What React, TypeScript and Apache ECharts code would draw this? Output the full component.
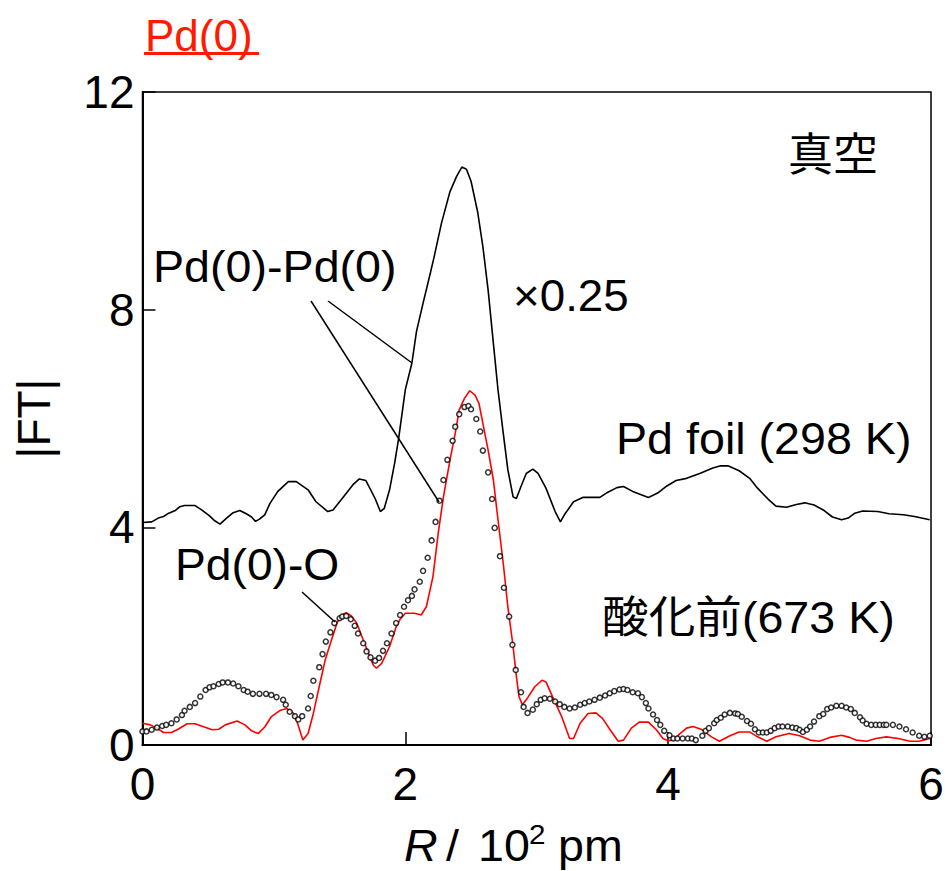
import React, { useEffect, useRef } from "react";
import * as echarts from "echarts";

// Pd foil (298 K), |FT| scaled x0.25 and offset
const foilR = [0.0, 0.07, 0.12, 0.16, 0.2, 0.25, 0.285, 0.32, 0.4, 0.45, 0.51, 0.55, 0.59, 0.64, 0.69, 0.74, 0.79, 0.83, 0.86, 0.89, 0.93, 0.97, 1.03, 1.11, 1.17, 1.26, 1.32, 1.41, 1.45, 1.53, 1.6, 1.65, 1.7, 1.77, 1.81, 1.84, 1.88, 1.92, 1.95, 2.0, 2.05, 2.085, 2.135, 2.19, 2.22, 2.275, 2.34, 2.39, 2.43, 2.465, 2.5, 2.55, 2.59, 2.63, 2.67, 2.705, 2.745, 2.78, 2.82, 2.845, 2.88, 2.92, 2.97, 3.01, 3.07, 3.14, 3.18, 3.21, 3.28, 3.35, 3.48, 3.53, 3.61, 3.66, 3.73, 3.85, 3.92, 3.99, 4.06, 4.14, 4.24, 4.34, 4.4, 4.455, 4.54, 4.62, 4.68, 4.76, 4.82, 4.9, 4.975, 5.04, 5.11, 5.18, 5.25, 5.32, 5.37, 5.42, 5.48, 5.595, 5.68, 5.79, 5.875, 5.99];
const foilFT = [4.09, 4.1, 4.17, 4.2, 4.26, 4.31, 4.38, 4.4, 4.4, 4.32, 4.21, 4.12, 4.06, 4.17, 4.27, 4.31, 4.25, 4.19, 4.11, 4.15, 4.23, 4.44, 4.66, 4.84, 4.84, 4.69, 4.47, 4.29, 4.32, 4.56, 4.78, 4.89, 4.86, 4.53, 4.29, 4.35, 4.69, 5.2, 5.65, 6.53, 7.02, 7.6, 8.12, 8.67, 8.98, 9.59, 10.17, 10.45, 10.62, 10.58, 10.36, 9.8, 9.16, 8.36, 7.38, 6.53, 5.73, 5.06, 4.56, 4.53, 4.75, 4.99, 5.07, 4.99, 4.72, 4.29, 4.1, 4.23, 4.47, 4.55, 4.55, 4.63, 4.73, 4.75, 4.66, 4.55, 4.63, 4.76, 4.86, 4.9, 4.99, 5.09, 5.13, 5.13, 5.04, 4.9, 4.72, 4.52, 4.39, 4.37, 4.42, 4.45, 4.41, 4.32, 4.19, 4.14, 4.17, 4.26, 4.3, 4.29, 4.25, 4.23, 4.2, 4.14];

// 酸化前 (673 K), red line
const redR = [0.0, 0.06, 0.11, 0.16, 0.22, 0.27, 0.34, 0.4, 0.46, 0.53, 0.58, 0.63, 0.72, 0.78, 0.83, 0.88, 0.93, 0.98, 1.05, 1.1, 1.15, 1.18, 1.22, 1.26, 1.3, 1.35, 1.39, 1.43, 1.48, 1.515, 1.55, 1.59, 1.63, 1.68, 1.73, 1.755, 1.78, 1.82, 1.88, 1.93, 1.96, 2.0, 2.07, 2.12, 2.16, 2.21, 2.25, 2.29, 2.34, 2.38, 2.41, 2.45, 2.49, 2.53, 2.56, 2.59, 2.63, 2.67, 2.705, 2.745, 2.78, 2.82, 2.845, 2.865, 2.89, 2.92, 2.985, 3.04, 3.07, 3.12, 3.19, 3.25, 3.28, 3.33, 3.39, 3.45, 3.5, 3.57, 3.62, 3.66, 3.72, 3.78, 3.85, 3.91, 3.96, 4.0, 4.04, 4.09, 4.14, 4.19, 4.25, 4.33, 4.39, 4.47, 4.54, 4.62, 4.68, 4.75, 4.82, 4.92, 5.0, 5.08, 5.15, 5.23, 5.32, 5.38, 5.43, 5.51, 5.58, 5.66, 5.75, 5.84, 5.91, 5.99];
const redFT = [0.4, 0.37, 0.31, 0.23, 0.23, 0.29, 0.39, 0.39, 0.34, 0.28, 0.29, 0.37, 0.44, 0.37, 0.26, 0.21, 0.33, 0.52, 0.64, 0.67, 0.58, 0.4, 0.09, 0.21, 0.58, 1.13, 1.56, 1.87, 2.24, 2.39, 2.43, 2.37, 2.24, 1.93, 1.62, 1.47, 1.41, 1.5, 1.81, 2.17, 2.31, 2.42, 2.42, 2.39, 2.54, 3.09, 3.89, 4.56, 5.24, 5.73, 6.16, 6.37, 6.51, 6.43, 6.28, 5.91, 5.42, 4.87, 4.14, 3.34, 2.54, 1.81, 1.26, 0.89, 0.74, 0.83, 1.07, 1.19, 1.16, 0.89, 0.52, 0.12, 0.12, 0.4, 0.58, 0.59, 0.49, 0.24, 0.07, 0.09, 0.31, 0.42, 0.42, 0.28, 0.12, 0.08, 0.09, 0.21, 0.31, 0.34, 0.29, 0.15, 0.07, 0.17, 0.24, 0.24, 0.15, 0.07, 0.15, 0.21, 0.17, 0.09, 0.07, 0.14, 0.18, 0.14, 0.09, 0.07, 0.12, 0.15, 0.12, 0.07, 0.07, 0.12];

// open circles
const dotR = [0.0, 0.03, 0.07, 0.11, 0.15, 0.18, 0.22, 0.26, 0.3, 0.32, 0.36, 0.4, 0.44, 0.48, 0.51, 0.54, 0.58, 0.61, 0.65, 0.69, 0.73, 0.77, 0.8, 0.84, 0.89, 0.94, 0.98, 1.02, 1.07, 1.09, 1.12, 1.16, 1.185, 1.215, 1.26, 1.28, 1.3, 1.345, 1.37, 1.395, 1.43, 1.46, 1.5, 1.52, 1.55, 1.585, 1.615, 1.64, 1.68, 1.705, 1.735, 1.77, 1.8, 1.83, 1.86, 1.895, 1.93, 1.96, 1.99, 2.02, 2.05, 2.07, 2.11, 2.135, 2.17, 2.2, 2.23, 2.26, 2.29, 2.32, 2.36, 2.38, 2.41, 2.45, 2.48, 2.5, 2.54, 2.57, 2.59, 2.63, 2.66, 2.68, 2.72, 2.75, 2.79, 2.815, 2.84, 2.88, 2.9, 2.93, 2.97, 3.0, 3.03, 3.06, 3.1, 3.14, 3.175, 3.21, 3.25, 3.29, 3.33, 3.365, 3.4, 3.44, 3.48, 3.52, 3.555, 3.59, 3.63, 3.66, 3.69, 3.73, 3.77, 3.8, 3.83, 3.85, 3.885, 3.915, 3.94, 3.97, 4.01, 4.04, 4.07, 4.11, 4.15, 4.18, 4.21, 4.26, 4.285, 4.31, 4.35, 4.37, 4.4, 4.43, 4.47, 4.51, 4.53, 4.56, 4.6, 4.63, 4.66, 4.69, 4.72, 4.75, 4.78, 4.81, 4.84, 4.87, 4.91, 4.945, 4.975, 5.0, 5.025, 5.055, 5.08, 5.11, 5.15, 5.18, 5.21, 5.24, 5.28, 5.32, 5.355, 5.39, 5.42, 5.46, 5.48, 5.51, 5.545, 5.58, 5.61, 5.64, 5.66, 5.71, 5.76, 5.81, 5.86, 5.91, 5.95, 5.99];
const dotFT = [0.25, 0.25, 0.28, 0.32, 0.35, 0.37, 0.4, 0.47, 0.55, 0.63, 0.7, 0.77, 0.89, 1.01, 1.06, 1.08, 1.12, 1.15, 1.15, 1.13, 1.08, 1.01, 0.98, 0.94, 0.94, 0.94, 0.92, 0.88, 0.83, 0.74, 0.61, 0.53, 0.47, 0.53, 0.67, 0.9, 1.18, 1.43, 1.67, 1.9, 2.07, 2.24, 2.33, 2.36, 2.37, 2.31, 2.19, 2.05, 1.87, 1.72, 1.61, 1.55, 1.6, 1.73, 1.87, 2.05, 2.24, 2.39, 2.54, 2.66, 2.74, 2.86, 3.0, 3.2, 3.44, 3.76, 4.1, 4.49, 4.87, 5.24, 5.59, 5.85, 6.08, 6.21, 6.23, 6.17, 5.99, 5.76, 5.41, 5.01, 4.52, 3.99, 3.47, 2.89, 2.36, 1.84, 1.38, 0.97, 0.7, 0.59, 0.65, 0.75, 0.83, 0.86, 0.85, 0.8, 0.75, 0.7, 0.67, 0.69, 0.74, 0.77, 0.8, 0.83, 0.87, 0.91, 0.95, 0.99, 1.02, 1.03, 1.01, 0.97, 0.95, 0.88, 0.77, 0.67, 0.56, 0.46, 0.37, 0.26, 0.18, 0.12, 0.12, 0.12, 0.12, 0.12, 0.09, 0.17, 0.26, 0.31, 0.4, 0.46, 0.5, 0.56, 0.59, 0.58, 0.57, 0.52, 0.44, 0.39, 0.29, 0.23, 0.23, 0.23, 0.26, 0.31, 0.34, 0.34, 0.34, 0.32, 0.31, 0.28, 0.24, 0.28, 0.34, 0.43, 0.53, 0.57, 0.66, 0.69, 0.72, 0.72, 0.69, 0.66, 0.59, 0.51, 0.45, 0.39, 0.37, 0.37, 0.37, 0.37, 0.37, 0.37, 0.34, 0.29, 0.23, 0.17, 0.15, 0.17];

const xTicks = [0, 2, 4, 6];
const yTicks = [0, 4, 8, 12];

const FONT = '"Liberation Sans", Arial, sans-serif';
const CJK = '"Liberation Sans", "Noto Sans CJK JP", sans-serif';

const zip = (a: number[], b: number[]) => a.map((v, i) => [v, b[i]]);

function txt(text: string, x: number, y: number, opts: any = {}) {
  return {
    type: "text",
    x,
    y,
    scaleX: opts.scaleX ?? 1.06,
    rotation: opts.rotation ?? 0,
    style: {
      text,
      fill: opts.fill ?? "#000",
      fontSize: opts.fontSize ?? 44,
      fontFamily: opts.fontFamily ?? FONT,
      fontStyle: opts.fontStyle ?? "normal",
      align: opts.align ?? "left",
      verticalAlign: "middle",
    },
    z: 10,
  };
}

function ln(x1: number, y1: number, x2: number, y2: number, color = "#000", w = 1.5) {
  return {
    type: "line",
    shape: { x1, y1, x2, y2 },
    style: { stroke: color, lineWidth: w },
    z: 10,
  };
}

export default function App() {
  const ref = useRef<HTMLDivElement>(null);
  useEffect(() => {
    if (!ref.current) return;
    const chart = echarts.init(ref.current, undefined, { renderer: "svg" });
    chart.setOption({
      animation: false,
      backgroundColor: "#fff",
      grid: {
        left: 142.5,
        right: 15,
        top: 92,
        bottom: 126,
        containLabel: false,
        outerBoundsMode: "none",
        show: true,
        borderColor: "#000",
        borderWidth: 1.5,
        backgroundColor: "transparent",
      },
      xAxis: {
        type: "value",
        min: xTicks[0],
        max: xTicks[xTicks.length - 1],
        interval: 2,
        axisLine: { show: true, lineStyle: { color: "#000", width: 2 } },
        axisTick: { show: true, inside: true, length: 13, lineStyle: { color: "#000", width: 1.5 } },
        axisLabel: { color: "#000", fontSize: 46, fontFamily: FONT, margin: 16 },
        splitLine: { show: false },
      },
      yAxis: {
        type: "value",
        min: yTicks[0],
        max: yTicks[yTicks.length - 1],
        interval: 4,
        name: "|FT|",
        nameLocation: "middle",
        nameRotate: 90,
        nameGap: 86,
        nameTextStyle: { color: "#000", fontSize: 46, fontFamily: FONT },
        axisLine: { show: true, lineStyle: { color: "#000", width: 2 } },
        axisTick: { show: true, inside: true, length: 13, lineStyle: { color: "#000", width: 1.5 } },
        axisLabel: { color: "#000", fontSize: 46, fontFamily: FONT, margin: 8 },
        splitLine: { show: false },
      },
      series: [
        {
          type: "line",
          name: "Pd foil (298 K)",
          data: zip(foilR, foilFT),
          showSymbol: false,
          symbol: "none",
          lineStyle: { color: "#000", width: 1.6 },
          z: 2,
        },
        {
          type: "line",
          name: "酸化前(673 K)",
          data: zip(redR, redFT),
          showSymbol: false,
          symbol: "none",
          lineStyle: { color: "#ff0000", width: 1.6 },
          z: 3,
        },
        {
          type: "scatter",
          name: "dots",
          data: zip(dotR, dotFT),
          symbol: "circle",
          symbolSize: 5,
          itemStyle: { color: "#fff", borderColor: "#000", borderWidth: 1.5 },
          z: 4,
        },
      ],
      graphic: [
        txt("Pd(0)", 145, 35, { fill: "#ff1a00", scaleX: 1 }),
        ln(144, 53.5, 259, 53.5, "#ff1a00", 3),
        txt("真空", 788, 155, { fontFamily: CJK, fontSize: 45, scaleX: 1 }),
        txt("Pd(0)-Pd(0)", 153, 267),
        txt("×0.25", 513, 296, { scaleX: 1.04 }),
        txt("Pd foil (298 K)", 616, 439),
        txt("Pd(0)-O", 175, 565, { scaleX: 1.05 }),
        txt("酸化前(673 K)", 602, 618, { fontFamily: CJK }),
        ln(311, 301, 439, 502),
        ln(328, 301, 412, 363),
        ln(302, 592, 335, 622),
        txt("R", 404, 846, { fontStyle: "italic" }),
        txt("/", 446, 846),
        txt("10", 478, 846),
        txt("2", 529, 834, { fontSize: 28 }),
        txt("pm", 558, 846),
      ],
    });
    return () => chart.dispose();
  }, []);
  return (
    <div
      ref={ref}
      style={{ position: "fixed", left: 0, top: 0, width: 946, height: 871 }}
    />
  );
}
